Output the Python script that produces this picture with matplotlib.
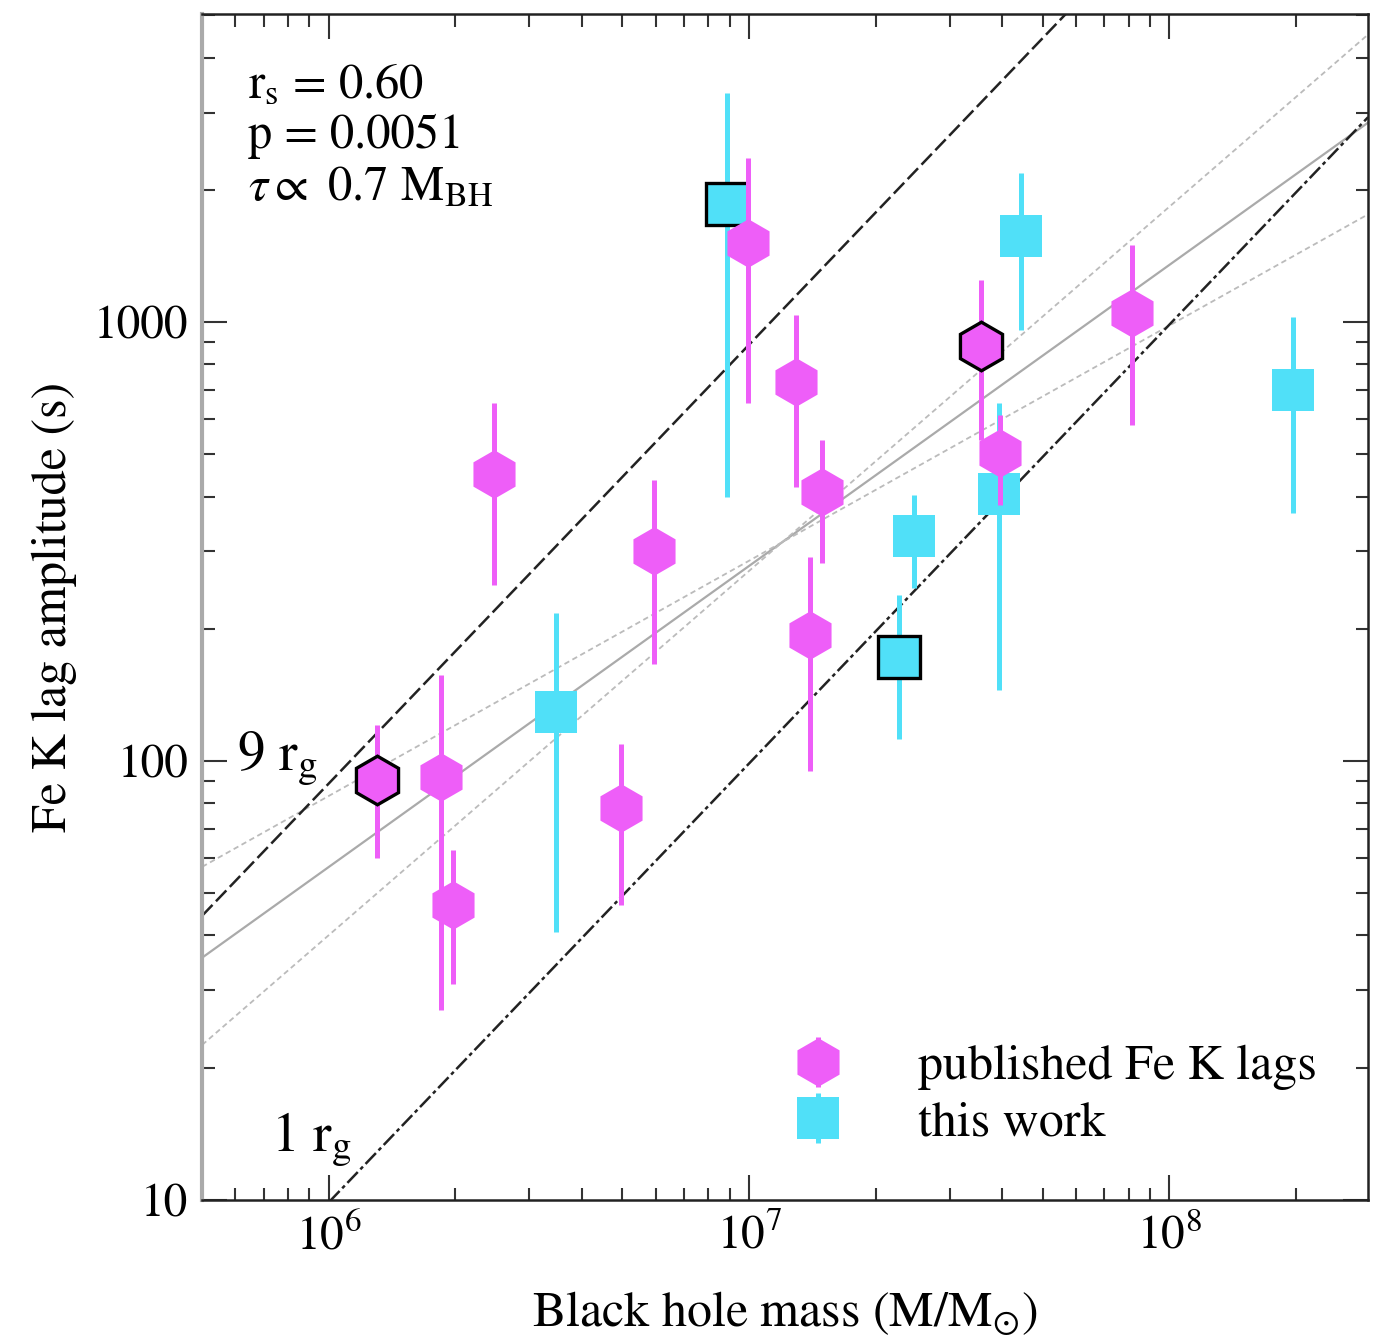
import numpy as np
import matplotlib
matplotlib.use("Agg")
import matplotlib.pyplot as plt
from matplotlib.ticker import LogLocator, NullFormatter, FuncFormatter

plt.rcParams['font.family'] = ['STIXGeneral', 'DejaVu Sans']
plt.rcParams['mathtext.fontset'] = 'stix'

# ---- published Fe K lags (magenta hexagons) ----
pub_mass = [1.30e6, 1.85e6, 1.98e6, 2.48e6, 4.97e6, 5.94e6, 9.95e6, 1.29e7,
            1.49e7, 1.40e7, 3.56e7, 3.95e7, 8.17e7]
pub_lag = [90.6, 92, 47, 451, 78, 301, 1514, 729, 410, 194, 881, 503, 1048]
pub_hi = [121, 157, 62.7, 653, 109, 436, 2366, 1038, 538, 292, 1247, 614, 1496]
pub_lo = [60, 27, 31, 252, 47, 166, 653, 421, 282, 95, 538, 383, 582]
pub_edge = [True, False, False, False, False, False, False, False,
            False, False, True, False, False]

# ---- this work (cyan squares) ----
tw_mass = [8.87e6, 3.48e6, 2.28e7, 2.47e7, 3.93e7, 4.43e7, 1.97e8]
tw_lag = [1858, 129, 172.6, 326, 405, 1571, 700]
tw_hi = [3325, 217, 239, 404, 653, 2183, 1026]
tw_lo = [399, 40.7, 112, 248, 145, 960, 367]
tw_edge = [True, False, True, False, False, False, False]

# ---- model / fit lines ----
rg_time_per_1e6 = 9.86          # lag (s) for 1 r_g at 1e6 Msun
rg_multiples = [9, 1]
fit_pivot_mass = 1.2e7
fit_pivot_lag = 315
fit_slope = 0.686
band_slopes = [0.830, 0.536]

MAG = '#EE5EF8'
CYN = '#50E0F8'

fig = plt.figure(figsize=(13.75, 13.36), dpi=100)
ax = fig.add_axes([0.147, 0.102, 0.848, 0.8875])
ax.set_xscale('log')
ax.set_yscale('log')
xlim = (5.0e5, 2.97e8)
ylim = (10, 5030)
ax.set_xlim(*xlim)
ax.set_ylim(*ylim)

xx = np.logspace(np.log10(xlim[0]), np.log10(xlim[1]), 200)

# rg lines
ax.plot(xx, rg_multiples[0] * rg_time_per_1e6 * xx / 1e6, color='#222222',
        lw=1.8, ls=(0, (6, 2)), zorder=2)
ax.plot(xx, rg_multiples[1] * rg_time_per_1e6 * xx / 1e6, color='#222222',
        lw=1.8, ls=(0, (6, 1.5, 1.5, 1.5)), zorder=2)
# best fit and band
ax.plot(xx, fit_pivot_lag * (xx / fit_pivot_mass) ** fit_slope, color='#aaaaaa',
        lw=1.6, zorder=1)
for s in band_slopes:
    ax.plot(xx, fit_pivot_lag * (xx / fit_pivot_mass) ** s, color='#bbbbbb',
            lw=1.3, ls=(0, (3, 2)), zorder=1)


def draw(mass, lag, hi, lo, edge, color, marker, ms, label, z):
    mass = np.array(mass); lag = np.array(lag)
    hi = np.array(hi); lo = np.array(lo)
    edge = np.array(edge)
    yerr = [lag - lo, hi - lag]
    ax.errorbar(mass, lag, yerr=yerr, fmt='none', ecolor=color,
                elinewidth=3.6, capsize=0, zorder=z)
    ax.plot(mass[~edge], lag[~edge], ls='none', marker=marker, ms=ms,
            mfc=color, mec=color, mew=0, zorder=z + 0.1)
    ax.plot(mass[edge], lag[edge], ls='none', marker=marker, ms=ms,
            mfc=color, mec='black', mew=2.4, zorder=z + 0.2)
    leg = ax.errorbar([np.nan], [np.nan], yerr=[[1], [1]], fmt=marker, ms=ms,
                      mfc=color, mec=color, mew=0, ecolor=color,
                      elinewidth=3.6, capsize=0, label=label)
    return leg


h2 = draw(tw_mass, tw_lag, tw_hi, tw_lo, tw_edge, CYN, 's', 30, 'this work', 3)
h1 = draw(pub_mass, pub_lag, pub_hi, pub_lo, pub_edge, MAG, 'h', 35,
          'published Fe K lags', 4)

ax.legend([h1, h2], ['published Fe K lags', 'this work'], loc='upper left',
          bbox_to_anchor=(0.507, 0.131), frameon=False, fontsize=36,
          handlelength=1.0, handletextpad=1.5, borderpad=0, labelspacing=0.2,
          borderaxespad=0)

# annotations
tfs = 35
ax.text(0.039, 0.930, r'r$_{\mathrm{s}}$ = 0.60', transform=ax.transAxes,
        fontsize=tfs, va='baseline', ha='left')
ax.text(0.039, 0.887, r'p = 0.0051', transform=ax.transAxes,
        fontsize=tfs, va='baseline', ha='left')
ax.text(0.039, 0.843, r'$\tau \propto$ 0.7 M$_{\mathrm{BH}}$', transform=ax.transAxes,
        fontsize=tfs, va='baseline', ha='left')
ax.text(6.04e5, 95, r'9 r$_{\mathrm{g}}$', fontsize=40, va='baseline', ha='left')
ax.text(7.3e5, 12.9, r'1 r$_{\mathrm{g}}$', fontsize=40, va='baseline', ha='left')

# axes styling
ax.set_xlabel(r'Black hole mass (M/M$_{\odot}$)', fontsize=36, labelpad=22)
ax.set_ylabel('Fe K lag amplitude (s)', fontsize=36, labelpad=12)

ax.xaxis.set_major_locator(LogLocator(base=10, numticks=10))
ax.xaxis.set_minor_locator(LogLocator(base=10, subs=np.arange(2, 10), numticks=20))
ax.xaxis.set_minor_formatter(NullFormatter())
ax.yaxis.set_major_locator(LogLocator(base=10, numticks=10))
ax.yaxis.set_minor_locator(LogLocator(base=10, subs=np.arange(2, 10), numticks=20))
ax.yaxis.set_major_formatter(FuncFormatter(lambda v, p: '%d' % round(v)))
ax.yaxis.set_minor_formatter(NullFormatter())

ax.tick_params(which='both', direction='in', top=True, right=True,
               labelsize=34, width=1.5, color='#333333')
ax.tick_params(which='major', length=18, pad=10)
ax.tick_params(which='minor', length=9)

for side in ['top', 'right', 'bottom']:
    ax.spines[side].set_linewidth(1.8)
    ax.spines[side].set_color('#222222')
ax.spines['left'].set_linewidth(3)
ax.spines['left'].set_color('#aaaaaa')

fig.savefig('out.png', dpi=100)
